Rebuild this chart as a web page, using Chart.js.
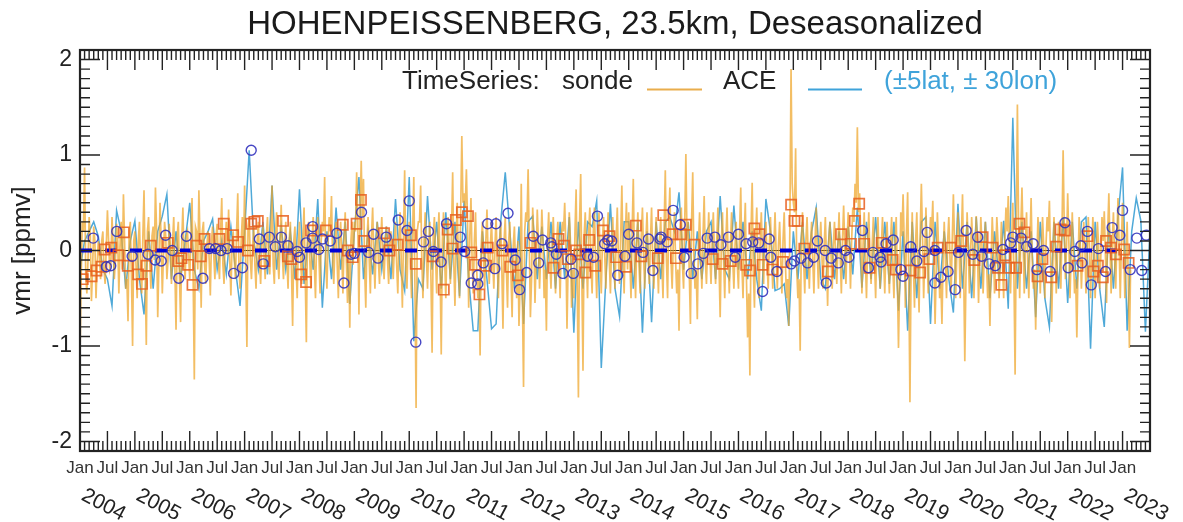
<!DOCTYPE html>
<html><head><meta charset="utf-8">
<script src="https://cdn.jsdelivr.net/npm/chart.js@4/dist/chart.umd.min.js"></script>
<style>html,body{margin:0;padding:0;background:#fff}canvas{display:block;filter:blur(0.45px)}</style>
</head><body><canvas id="c" width="1183" height="522"></canvas>
<script>
// sonde, half-monthly spike estimates per year
const sonde2004=[-1.1,.3,.87,-.45,.35,-.53,.25,-.5,.1,-.3,.2,-.35,.42,-.2,.35,-.3,.28,-.45,.3,.59,-.4,-.74,.3,-1.0];
const sonde2005=[.2,-.5,.3,-.45,.63,-.99,.35,-.4,.25,.66,-.7,.5,-.45,.3,-.3,.28,-.35,.35,-.83,.3,-.75,.45,-.3,.2];
const sonde2006=[-.3,.55,-1.35,.2,.63,-.6,.3,-.35,.2,-.47,.25,-.3,.28,-.3,.55,-.35,.3,.43,-.47,.2,-.3,.6,-.4,.35];
const sonde2007=[.68,-1.01,.35,-.3,.25,-.4,.3,-.35,.25,-.3,.35,-.25,.68,-.35,.4,-.3,.48,-.3,.3,-.4,.3,-.79,.25,-.5];
const sonde2008=[.3,-.35,.45,-.96,.3,-.4,.35,-.5,.35,-.45,.3,.77,-.4,.35,.57,-.35,.3,-.5,.3,-.45,.4,-.55,-.81,.3];
const sonde2009=[.3,.82,-.67,.94,.75,-.6,.35,-.45,.45,-.4,.3,-.35,.35,-.3,.25,-.35,.2,-.3,.3,-.45,.4,-.6,.84,-.4];
const sonde2010=[.3,-.5,.77,-1.65,.3,.68,-.5,.4,-.4,.3,-1.07,.35,-.45,.4,-1.09,.4,-.5,.35,-.35,.82,-.58,.5,-.5,1.2];
const sonde2011=[.6,.85,-.6,.55,-.45,.4,-.5,-1.1,.3,-.4,.43,-.35,.3,-.4,.35,-.5,.3,-.82,.35,-.6,.3,-.7,.25,-.5];
const sonde2012=[-.79,.7,-1.43,.4,.85,-.7,.45,-.55,.43,-.4,.43,-.5,-.84,.4,-.4,.35,-.45,.3,-.5,.3,.5,-.82,.4,-.6];
const sonde2013=[-.5,.64,-1.54,.8,-1.26,.4,-.5,.45,-.45,.45,-.5,.4,-.45,.35,-.4,.4,-.45,.35,-.4,.45,-.35,.68,-.45,.5];
const sonde2014=[.4,-.5,.75,-.5,.4,-.45,.45,-.4,.4,-.35,.45,-.4,.35,-.45,.35,-.5,.84,-.5,.66,-.4,.4,-.45,-.84,.45];
const sonde2015=[-.4,1.01,.3,-.77,.82,-.4,-.72,.4,-.4,.57,-.35,.4,-.35,.4,-.35,.45,-.7,.4,-.5,.45,-.45,.4,-.4,.3];
const sonde2016=[-.4,.66,-.5,.5,-.91,-1.31,.71,-.6,.45,-.5,.4,-.35,.3,-.4,.35,-.4,.4,-.4,.3,-.45,.4,-.5,-.79,1.9];
const sonde2017=[.5,1.07,-.5,-1.05,.4,-.45,.35,-.4,.3,-.45,.45,-.4,.3,-.4,.35,-.58,.3,-.4,.3,-.35,.4,-.45,.47,-.35];
const sonde2018=[.4,-.4,.45,.7,1.29,.6,-.45,.4,-.5,.4,-.35,.35,-.5,.35,-.4,.35,-.45,.3,-.45,.35,-.5,.35,-1.02,.4];
const sonde2019=[.59,-.6,.61,-1.59,.4,-.6,.4,-.65,.7,-.5,.45,-.45,.35,.52,-.77,.4,-.5,-.77,.3,-.5,.35,-.45,.59,-.5];
const sonde2020=[.4,-.5,.59,-1.16,.4,-.45,.35,-.5,.36,-.55,.35,-.45,.3,-.5,-.79,.35,-.45,.35,-.5,.3,-.5,.45,.57,-.45];
const sonde2021=[.5,-1.3,1.53,-.5,.66,-.45,.4,-.5,.55,-.4,-.83,.35,-.45,.35,-.5,.35,.52,-.75,.35,-.45,.3,-.4,1.05,-.3];
const sonde2022=[.6,-.5,.4,-.45,-.91,.35,-.4,.3,-.45,.35,-.5,.35,-.5,.3,-.4,.35,.41,-.55,.6,-.45,.4,-.4,.55,-.5];
const sonde2023=[.5,-.5,.3,-1.02];
// sonde, in-between readings of the dense core of the band
const core2004=[-.3,.2,-.25,-.1,.15,-.2,.1,-.15,-.05,.1,-.2,.05,.1,-.15,.05,-.1,.1,.05,-.2,.1,-.3,.2,-.25,.1];
const core2005=[-.15,.1,-.2,.15,-.25,.2,-.1,.15,-.1,.2,-.15,.1,-.05,.15,-.1,.05,.1,-.2,.15,-.25,.1,-.1,.15,-.05];
const core2006=[.15,-.3,.25,-.2,.1,.2,-.15,.05,-.1,.1,-.05,.15,-.1,.2,-.15,.1,-.05,-.1,.05,-.1,.2,-.15,.1,-.05];
const core2007=[-.2,.25,-.1,.05,-.15,.1,-.1,.05,-.05,.15,-.1,.2,-.15,.15,-.1,.1,-.05,.05,-.1,.1,-.2,.1,-.15,.05];
const core2008=[-.1,.15,-.25,.2,-.1,.1,-.15,.1,-.05,.1,.2,-.15,.1,.2,-.1,.05,-.15,.1,-.05,.1,-.1,.05,.1,-.15];
const core2009=[.2,.3,.4,.35,-.2,.1,-.1,.15,-.05,.05,-.1,.1,-.05,.05,-.1,.1,-.05,.05,-.15,.1,-.1,.15,-.2,.1];
const core2010=[-.1,.2,-.4,.2,.3,-.1,.1,-.05,.05,-.3,.15,-.05,.1,-.2,.1,-.1,.05,-.05,.2,-.15,.1,-.15,.4,.5];
const core2011=[.45,.3,.15,-.1,.1,-.2,-.3,.05,-.1,.1,-.05,.05,-.1,.05,-.15,.1,-.2,.1,-.2,.1,-.25,.05,-.15,.1];
const core2012=[-.35,-.5,.2,.3,.1,-.3,.15,-.1,.1,-.05,.1,-.2,.1,-.1,.05,-.05,.1,-.05,.1,.2,.05,-.15,.1,-.2];
const core2013=[.2,-.4,.3,-.3,.15,-.1,.2,-.15,.2,-.1,.05,-.1,.1,-.05,.1,-.1,.05,-.05,.1,-.1,.15,-.1,.15,-.2];
const core2014=[-.1,.2,-.1,.1,-.15,.15,-.05,.1,-.05,.1,-.1,.05,-.1,.1,-.15,.25,-.1,.3,-.1,.1,-.1,-.2,.2,-.15];
const core2015=[.3,.1,-.25,.3,-.05,-.2,.05,-.05,.15,-.1,.05,-.05,.1,-.05,.1,-.15,.05,-.1,.1,-.1,.05,-.1,.05,-.15];
const core2016=[.2,-.15,.15,-.3,-.45,.2,-.2,.15,-.1,.1,-.05,.05,-.1,.05,-.05,.05,-.05,.05,-.1,.1,-.1,-.3,.3,.7];
const core2017=[.4,-.2,-.3,.1,-.1,.1,-.05,.05,-.1,.1,-.05,.05,-.05,.05,-.1,.1,-.05,.05,-.05,.05,-.05,.1,.05,.1];
const core2018=[.05,.1,.3,.5,.4,.1,.05,-.1,.05,-.05,.05,-.1,.05,-.05,.05,-.1,.05,-.1,.1,-.15,.1,-.3,-.3,.15];
const core2019=[.1,.2,-.3,-.2,-.15,.1,-.2,.2,.15,-.05,-.05,.1,.2,-.1,-.2,.05,-.3,-.1,-.1,.1,-.05,.1,.1,-.05];
const core2020=[.05,.15,-.2,-.3,.05,-.05,.05,-.05,.05,-.1,.05,-.05,-.1,-.25,-.1,.05,-.05,.1,-.1,-.15,.1,.2,.05,.1];
const core2021=[-.3,.2,.3,.25,.1,.05,-.1,.1,-.1,-.2,-.1,.05,-.05,.05,.05,.2,-.1,-.15,.05,-.05,.05,.2,.25,.05];
const core2022=[.1,-.05,-.05,-.3,-.2,.05,-.05,.05,-.05,.05,-.05,.05,-.1,.05,-.05,.1,-.05,.2,.05,.1,-.05,.1,.05,.1];
const core2023=[.05,-.1,-.3,-.2];
// ACE, monthly estimates per year
const ace2004=[-.2,.1,.2,.3,.15,-.2,-.3,-.58,.42,.2,-.4,.1];
const ace2005=[.31,-.3,-.67,.2,-.4,.2,.36,.59,-.3,.2,-.3,.1];
const ace2006=[.5,-.2,-.4,.1,.2,.33,-.2,.1,-.25,.25,-.2,-.58];
const ace2007=[.2,1.05,.1,-.2,.3,-.25,.68,-.2,.25,-.2,.2,-.3];
const ace2008=[.64,-.35,.2,-.2,.54,-.6,.2,-.3,.45,-.2,.3,-.56];
const ace2009=[.2,.77,-.3,.2,-.25,.3,-.2,.25,-.3,.54,-.2,-.42];
const ace2010=[.77,-.95,-.3,-.4,.57,-.2,.3,-.4,.4,-.3,.3,-.48];
const ace2011=[.52,-.3,-.84,-.84,.2,-.3,-.82,-.77,.3,.82,.2,-.4];
const ace2012=[.25,-.77,.3,.36,-.3,.25,-.3,.3,-.4,.3,-.3,.35];
const ace2013=[-.86,.3,-.4,.3,.25,.52,-1.23,-.3,.49,-.4,-.69,.3];
const ace2014=[.3,-.4,.3,-.86,.2,-.75,.3,-.3,.3,.35,.2,.61];
const ace2015=[-.2,.3,-.3,.2,-.3,.2,.3,-.3,.57,-.2,-.3,.47];
const ace2016=[-.2,.3,-.3,.2,-.3,-.63,.54,.2,-.42,-.4,-.35,-.79];
const ace2017=[.2,-.3,.3,-.3,.2,.45,-.3,-.4,.3,-.3,.2,-.3];
const ace2018=[.25,-.25,.45,-.39,.3,-.3,.35,-.4,.3,-.35,.3,-.63];
const ace2019=[.2,-.84,.3,-.5,.3,.35,-.77,.3,-.4,.2,-.3,-.65];
const ace2020=[.49,-.4,.3,-.5,.35,-.4,.3,-.5,.2,-.3,.31,-.61];
const ace2021=[1.39,-.4,.3,-.4,.2,-.7,.3,-.5,-.8,.3,-.4,.35];
const ace2022=[-.55,.3,-.4,.3,.35,-1.03,.3,-.4,-.8,.3,-.4,.35];
const ace2023=[.87,-.84,.2,.55,.31,-.85,.2];
// sonde means (squares): decimal year, vmr
const squareDates=[2004.05,2004.21,2004.30,2004.39,2004.45,2004.57,2004.70,2004.80,2004.87,2005.06,2005.13,2005.21,2005.29,2005.60,2005.79,2005.85,2005.97,2006.05,2006.12,2006.20,2006.27,2006.54,2006.62,2006.79,2006.88,2007.06,2007.12,2007.18,
2007.24,2007.36,2007.70,2007.79,2007.85,2008.03,2008.12,2008.21,2008.48,2008.79,2008.88,2008.97,2009.04,2009.12,2009.18,2009.54,2009.64,2009.79,2010.03,2010.12,2010.43,
2010.63,2010.70,2010.79,2010.85,2010.96,2011.07,2011.13,2011.20,2011.28,2011.43,2011.40,2011.70,2011.84,2011.98,2012.21,2012.63,2012.72,2012.82,2012.89,2013.04,2013.10,2013.21,2013.28,2013.39,2013.53,2013.65,2013.77,
2013.95,2014.13,2014.23,2014.53,2014.63,2014.80,2014.86,2015.04,2014.95,2015.20,2015.53,2015.71,2015.86,2016.14,2016.21,2016.29,2016.38,2016.44,2016.62,2016.81,2016.96,2017.02,
2017.08,2017.20,2017.63,2017.87,2018.05,2018.12,2018.20,2018.29,2018.39,2018.61,2018.81,2018.87,2019.14,2019.31,2019.48,2019.63,2019.87,2020.06,
2020.30,2020.45,2020.63,2020.73,2020.79,2020.86,2020.94,2021.06,2021.12,2021.21,2021.45,2021.54,2021.70,2021.79,2021.87,2021.95,2022.18,2022.36,2022.47,2022.55,2022.64,2022.70,2022.79,2022.88,2023.03,2023.11];
const squareValues=[-.30,-.27,-.21,-.17,.01,.03,-.05,.19,-.16,-.25,-.35,-.16,.05,.08,-.11,-.08,-.15,-.36,.05,-.06,.12,.12,.28,.16,.09,0,.28,.30,
.31,-.11,.31,-.06,-.09,-.25,-.33,.21,.21,.27,0,-.07,.28,.53,.10,.18,0,.06,.16,-.14,-.06,
-.41,.22,.02,.32,.40,.36,-.02,-.15,-.46,.03,-.16,0,-.17,-.26,.08,-.18,.12,.05,-.09,0,-.04,-.23,.11,-.16,.21,.15,-.07,
-.17,.26,-.06,-.08,.37,.17,-.08,.27,.17,.06,-.09,-.14,-.11,-.15,-.21,.23,.17,-.15,-.20,-.12,.48,.31,
.31,.02,-.22,.17,.07,.31,.49,.07,-.18,.08,-.10,-.20,-.21,-.23,-.09,.03,.03,.10,
-.10,.14,.03,-.18,-.36,-.05,-.18,-.18,.28,.19,-.27,-.09,-.28,.04,.22,.21,-.16,.15,-.22,-.16,-.28,.10,.03,-.04,.01,-.13];
// ACE means (circles): decimal year, vmr
const circleDates=[2004.24,2004.48,2004.56,2004.67,2004.95,2005.24,2005.37,2005.48,2005.56,2005.68,2005.80,2005.94,2006.24,2006.36,2006.47,2006.57,2006.68,2006.80,2006.96,2007.12,
2007.27,2007.34,2007.45,2007.56,2007.67,2007.79,2007.96,2008.00,2008.12,2008.24,2008.24,2008.35,2008.42,2008.56,2008.68,2008.81,2008.94,2009.00,2009.13,2009.26,2009.35,2009.43,2009.58,2009.80,2009.96,2010.00,2010.12,2010.26,2010.35,2010.44,
2010.58,2010.68,2010.93,2011.01,2011.13,2011.25,2011.25,2011.35,2011.43,2011.56,2011.58,2011.69,2011.80,2011.93,2012.01,2012.14,2012.26,2012.36,2012.43,2012.58,2012.60,2012.68,2012.80,2012.95,2012.99,2013.25,2013.36,2013.43,2013.56,2013.62,2013.69,2013.80,
2013.93,2014.00,2014.15,2014.26,2014.36,2014.44,2014.57,2014.59,2014.70,2014.81,2014.94,2015.01,2015.14,2015.26,2015.36,2015.43,2015.57,2015.68,2015.82,2015.94,2016.00,2016.14,2016.26,2016.37,2016.44,2016.56,2016.59,2016.70,2016.96,2017.02,
2017.14,2017.26,2017.37,2017.44,2017.58,2017.60,2017.69,2017.82,2017.95,2018.01,2018.26,2018.37,2018.45,2018.58,2018.60,2018.69,2018.82,2018.96,2019.00,2019.14,2019.25,2019.38,2019.44,2019.58,2019.58,2019.69,2019.82,2019.95,2020.01,2020.15,2020.27,
2020.36,2020.43,2020.57,2020.68,2020.82,2020.96,2021.00,2021.15,2021.25,2021.37,2021.44,2021.56,2021.68,2021.95,2022.01,2022.13,2022.24,2022.26,2022.36,2022.43,2022.56,2022.69,2022.81,2022.95,2023.00,2023.14,2023.26,2023.35,2023.43];
const circleValues=[.13,-.17,-.16,.20,-.06,-.04,-.10,-.11,.16,0,-.29,.15,-.29,.02,.02,0,.02,-.24,-.18,1.05,
.12,-.14,.14,.04,.14,.05,-.01,-.07,.08,.25,.13,.01,.12,.10,.18,-.34,-.04,-.03,.40,-.02,.17,-.08,.14,.32,.21,.52,-.96,.09,.20,-.01,
-.12,.28,.14,-.01,-.34,-.26,-.35,-.13,.28,-.19,.28,.07,.39,-.10,-.41,-.23,.15,-.13,.11,.08,.04,-.04,-.24,-.09,-.24,-.06,-.07,.36,.07,.11,.10,-.26,
-.06,.17,.08,-.02,.12,-.21,.12,.14,.09,.42,.27,-.07,-.24,-.14,-.03,.13,.14,.06,.14,-.07,.17,.07,.09,.08,-.43,.12,-.07,-.22,-.14,-.11,
-.08,-.13,-.07,.10,0,-.34,-.08,-.13,0,-.07,.21,-.18,-.02,-.07,-.12,.07,.11,-.20,-.27,.04,-.11,-.01,.19,0,-.34,-.28,-.22,-.41,-.02,.21,-.04,
.14,-.06,-.14,-.16,.01,.08,.14,.13,.04,.07,-.20,0,-.22,.29,-.18,-.01,.05,-.13,.20,-.36,.02,-.22,.24,.16,.42,-.20,.13,-.21,.16];
const zeroDates=[2004,2023];
const zeroValues=[0,0];
const refDates=[2004,2023.5];
const refValues=[0,0];
const yearLabels=[2004,2005,2006,2007,2008,2009,2010,2011,2012,2013,2014,2015,2016,2017,2018,2019,2020,2021,2022,2023];
const yTickValues=[-2,-1,0,1,2];
const titleText='HOHENPEISSENBERG, 23.5km, Deseasonalized';

const sondeYears=[sonde2004,sonde2005,sonde2006,sonde2007,sonde2008,sonde2009,sonde2010,sonde2011,sonde2012,sonde2013,sonde2014,sonde2015,sonde2016,sonde2017,sonde2018,sonde2019,sonde2020,sonde2021,sonde2022,sonde2023];
const coreYears=[core2004,core2005,core2006,core2007,core2008,core2009,core2010,core2011,core2012,core2013,core2014,core2015,core2016,core2017,core2018,core2019,core2020,core2021,core2022,core2023];
const aceYears=[ace2004,ace2005,ace2006,ace2007,ace2008,ace2009,ace2010,ace2011,ace2012,ace2013,ace2014,ace2015,ace2016,ace2017,ace2018,ace2019,ace2020,ace2021,ace2022,ace2023];
const flat=(ys,n)=>ys.flatMap((a,k)=>a.map((v,i)=>({x:yearLabels[k]+i/n,y:v})));
const sondePoints=sondeYears.flatMap((a,k)=>a.flatMap((v,i)=>[{x:yearLabels[k]+i/24,y:v},{x:yearLabels[k]+(i+.5)/24,y:coreYears[k][i]}]));
const zip=(a,b)=>a.map((x,i)=>({x,y:b[i]}));
const INK='#222';
const FONT='"Liberation Sans",Arial,sans-serif';

const decor={id:'decor',afterDatasetsDraw(ch){
  const {ctx,chartArea:A,scales:{x,y}}=ch;
  ctx.save();
  ctx.strokeStyle=INK;ctx.lineWidth=1.4;ctx.beginPath();
  for(let m=0;m<=234;m++){const v=2004+m/12,p=x.getPixelForValue(v);const l=(m%6===0)?20:10;
    if(m===0||m===234)continue;
    ctx.moveTo(p,A.top);ctx.lineTo(p,A.top+l);ctx.moveTo(p,A.bottom);ctx.lineTo(p,A.bottom-l);}
  for(let k=-20;k<=20;k++){const p=y.getPixelForValue(k/10);const l=(k%10===0)?20:10;
    ctx.moveTo(A.left,p);ctx.lineTo(A.left+l,p);ctx.moveTo(A.right,p);ctx.lineTo(A.right-l,p);}
  ctx.stroke();
  ctx.lineWidth=2.2;ctx.strokeRect(A.left,A.top,A.right-A.left,A.bottom-A.top);
  // legend
  ctx.textBaseline='alphabetic';ctx.textAlign='left';
  ctx.font='26px '+FONT;ctx.fillStyle='#222';
  ctx.fillText('TimeSeries:',402,89);ctx.fillText('sonde',562,89);ctx.fillText('ACE',723,89);
  ctx.fillStyle='#3fa3da';ctx.fillText('(±5lat, ± 30lon)',884,89);
  ctx.lineWidth=1.8;
  ctx.strokeStyle='#e9ad4c';ctx.beginPath();ctx.moveTo(647,89.5);ctx.lineTo(702,89.5);ctx.stroke();
  ctx.strokeStyle='#3fa3da';ctx.beginPath();ctx.moveTo(808,89.5);ctx.lineTo(862,89.5);ctx.stroke();
  // rotated years
  ctx.fillStyle='#222';ctx.font='21px '+FONT;ctx.textAlign='center';ctx.textBaseline='middle';
  yearLabels.forEach(Y=>{ctx.save();ctx.translate(x.getPixelForValue(Y)+23.5,505);ctx.rotate(28*Math.PI/180);ctx.fillText(String(Y),0,0);ctx.restore();});
  ctx.restore();
}};

new Chart(document.getElementById('c'),{
  type:'line',
  data:{datasets:[
    {label:'ACE means',type:'scatter',data:zip(circleDates,circleValues),order:1,pointStyle:'circle',pointRadius:5,pointBackgroundColor:'rgba(0,0,0,0)',pointBorderColor:'rgba(50,50,190,.9)',pointBorderWidth:1.4},
    {label:'sonde means',type:'scatter',data:zip(squareDates,squareValues),order:2,pointStyle:'rect',pointRadius:7.2,pointBackgroundColor:'rgba(0,0,0,0)',pointBorderColor:'rgba(232,95,30,.85)',pointBorderWidth:1.7},
    {label:'zero',data:zip(zeroDates,zeroValues),order:3,borderColor:'#0000d8',borderWidth:4.2,borderDash:[12,13],pointRadius:0},
    {label:'sonde',data:sondePoints,order:4,borderColor:'rgba(238,165,40,.72)',borderWidth:1.7,pointRadius:0,tension:0},
    {label:'ACE',data:flat(aceYears,12),order:5,borderColor:'rgba(60,160,212,.9)',borderWidth:1.5,pointRadius:0,tension:0},
    {label:'ref',data:zip(refDates,refValues),order:6,borderColor:'#222',borderWidth:1,pointRadius:0}
  ]},
  options:{
    responsive:false,animation:false,
    layout:{padding:{left:0,right:33,top:0,bottom:0}},
    plugins:{legend:{display:false},tooltip:{enabled:false},
      title:{display:true,text:titleText,fullSize:false,color:'#1a1a1a',font:{family:FONT,size:33,weight:'normal'},padding:{top:5,bottom:5.4}}},
    scales:{
      x:{type:'linear',min:2004,max:2023.5,
        afterFit(s){s.height=71;},
        afterBuildTicks(s){const t=[];for(let v=2004;v<=2023.5;v+=.5)t.push({value:v});s.ticks=t;},
        grid:{display:false,drawTicks:false},border:{display:false},
        ticks:{autoSkip:false,maxRotation:0,minRotation:0,padding:7,color:'#333',font:{family:FONT,size:17},
          callback:v=>v>=2023.5?'':(Number.isInteger(v)?'Jan':'Jul')}},
      y:{type:'linear',min:-2.1,max:2.1,
        afterFit(s){s.width=80;},
        afterBuildTicks(s){s.ticks=yTickValues.map(value=>({value}));},
        grid:{display:false,drawTicks:false},border:{display:false},
        title:{display:true,text:'vmr [ppmv]',color:'#222',font:{family:FONT,size:26},padding:{top:7,bottom:0}},
        ticks:{padding:8,color:'#222',font:{family:FONT,size:23},callback:v=>String(v)}}
    }
  },
  plugins:[decor]
});
</script></body></html>
